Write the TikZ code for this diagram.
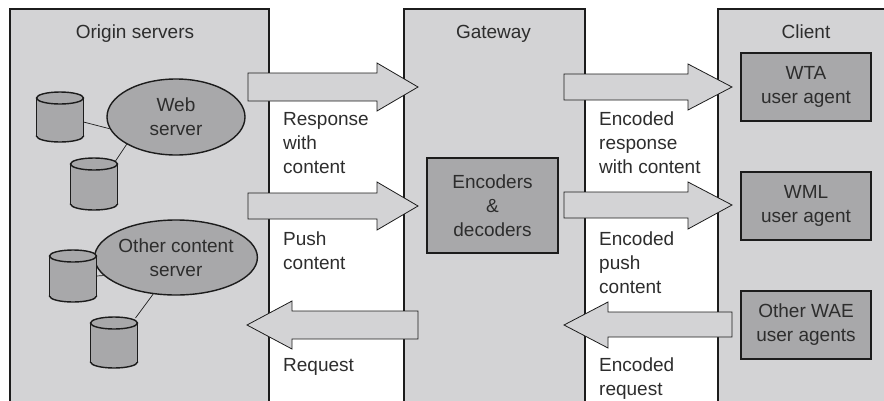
\documentclass[tikz,border=0pt]{standalone}
\usepackage{fontspec}
\setmainfont{Liberation Sans}
\usetikzlibrary{calc,shapes.geometric}
\definecolor{panelgray}{RGB}{211,211,213}
\definecolor{boxgray}{RGB}{168,168,170}
\definecolor{txt}{RGB}{45,45,45}
\definecolor{edge}{RGB}{28,28,28}
\newcommand\mycyl[5]{%
  \draw[cylface] (#2,#4) ellipse [x radius=#5, y radius=6];
  \fill[boxgray] (#2-#5,#3) rectangle (#2+#5,#4);
  \draw[cylline] (#2-#5,#3) -- (#2-#5,#4) (#2+#5,#3) -- (#2+#5,#4);
  \draw[cylface] (#2,#3) ellipse [x radius=#5, y radius=6];
  \node[inner sep=0pt, outer sep=0pt, minimum width=2*#5, minimum height=#4-#3+12] (#1) at (#2,{(#3+#4)/2}) {};
}
\begin{document}
\begin{tikzpicture}[x=1pt,y=-1pt,
  font=\fontsize{19}{24}\selectfont, text=txt,
  panel/.style={draw=edge, line width=1.6pt, fill=panelgray, inner sep=0pt, anchor=north west},
  bigarrow/.style={draw=edge, line width=0.8pt, fill=panelgray, line join=miter},
  darkbox/.style={draw=edge, line width=1.6pt, fill=boxgray, align=center, inner sep=0pt},
  server/.style={ellipse, draw=edge, line width=1.4pt, fill=boxgray, align=center, inner sep=0pt},
  cylface/.style={draw=edge, line width=1.4pt, fill=boxgray},
  cylline/.style={draw=edge, line width=1.4pt},
  link/.style={draw=edge, line width=0.7pt},
  lbl/.style={anchor=base west, align=left, inner sep=0pt},
  title/.style={anchor=base, inner sep=0pt}]
\useasboundingbox (0,0) rectangle (884,400);
\clip (0,0) rectangle (884,400);
% panels
\node[panel, minimum width=259, minimum height=410] (origin) at (9,8) {};
\node[panel, minimum width=181, minimum height=410] (gateway) at (403,8) {};
\node[panel, minimum width=190, minimum height=410] (client) at (717,8) {};
\node[title] (torigin) at (135,38) {Origin servers};
\node[title] (tgateway) at (493.5,38) {Gateway};
\node[title] (tclient) at (806,38) {Client};
% servers
\node[server, minimum width=138, minimum height=76] (web) at (176,117) {Web\\server};
\node[server, minimum width=138, minimum height=75] (other) at (176,257.5) {Other content\\server};
\mycyl{c1}{60}{98}{136}{23.5}
\mycyl{c2}{94}{164}{204}{23.5}
\mycyl{c3}{73}{256}{296}{23.5}
\mycyl{c4}{114}{323}{362}{23.5}
\draw[link] ($(c1.east)+(0,5)$) -- (web.190);
\draw[link] ($(c2.north east)+(-2,3)$) -- (web.209);
\draw[link] (c3.east) -- (other.194);
\draw[link] ($(c4.north east)+(-2,1)$) -- (other.238);
% gateway box
\node[darkbox, minimum width=131, minimum height=95] (enc) at (492.5,205.5) {Encoders\\\&\\decoders};
% client boxes
\node[darkbox, minimum width=130, minimum height=68] (wta) at (806,87) {WTA\\user agent};
\node[darkbox, minimum width=130, minimum height=68] (wml) at (806,206) {WML\\user agent};
\node[darkbox, minimum width=130, minimum height=68] (wae) at (806,325) {Other WAE\\user agents};
% big arrows
\draw[bigarrow] (248,73) -- (377,73) -- (377,63) -- (418,87) -- (377,111) -- (377,101) -- (248,101) -- cycle;
\draw[bigarrow] (248,193) -- (377,193) -- (377,182) -- (418,206) -- (377,230) -- (377,219) -- (248,219) -- cycle;
\draw[bigarrow] (418,311) -- (292,311) -- (292,301) -- (247,325) -- (292,349) -- (292,339) -- (418,339) -- cycle;
\draw[bigarrow] (564,74) -- (688,74) -- (688,64) -- (732,87) -- (688,110) -- (688,100) -- (564,100) -- cycle;
\draw[bigarrow] (564,192) -- (688,192) -- (688,182) -- (732,205) -- (688,229) -- (688,218) -- (564,218) -- cycle;
\draw[bigarrow] (732,312) -- (608,312) -- (608,302) -- (564,325) -- (608,348) -- (608,337) -- (732,337) -- cycle;
% labels (base = baseline of last line)
\node[lbl] (l1) at (283,173) {Response\\with\\content};
\node[lbl] (l2) at (283,269) {Push\\content};
\node[lbl] (l3) at (283,371) {Request};
\node[lbl] (l4) at (599,173) {Encoded\\response\\with content};
\node[lbl] (l5) at (599,293) {Encoded\\push\\content};
\node[lbl] (l6) at (599,395) {Encoded\\request};
\end{tikzpicture}
\end{document}
